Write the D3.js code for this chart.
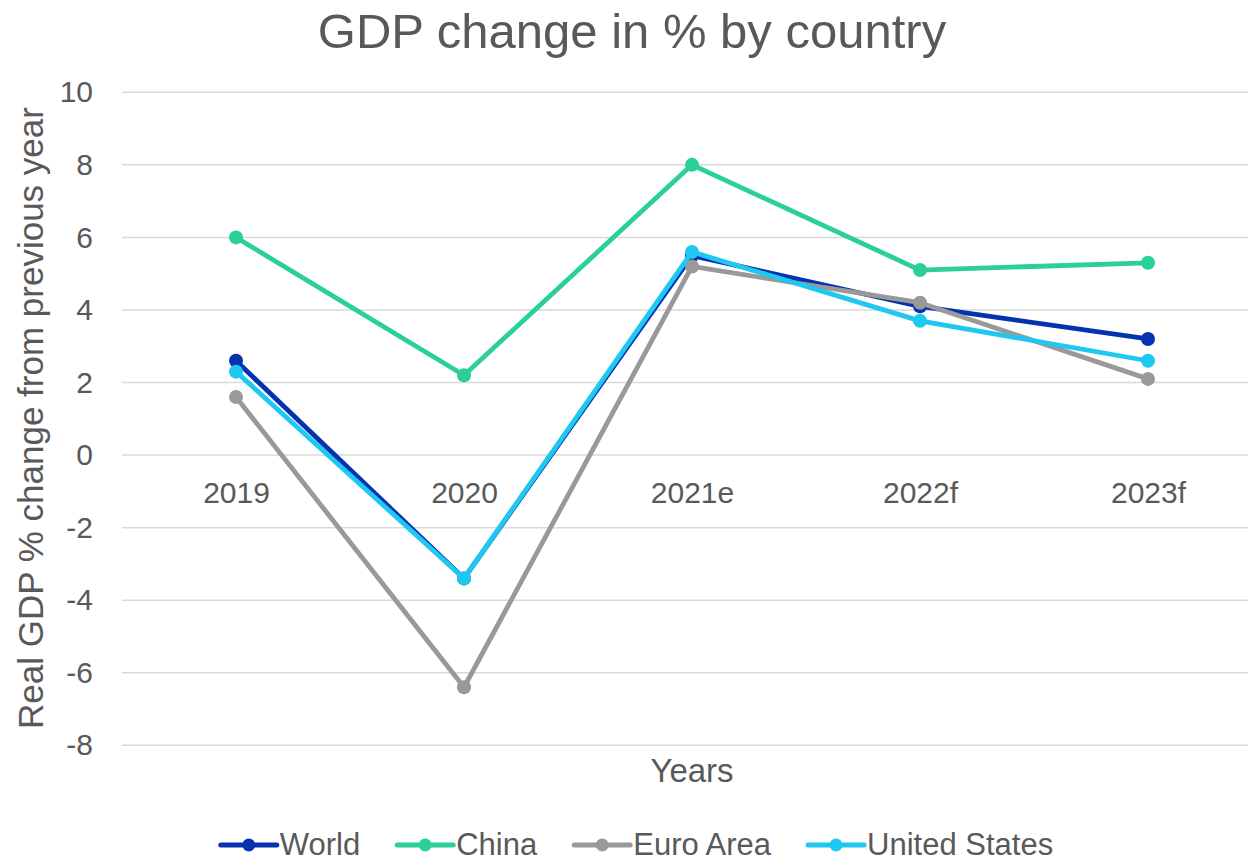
<!DOCTYPE html>
<html>
<head>
<meta charset="utf-8">
<script src="https://cdn.jsdelivr.net/npm/d3@7"></script>
<style>
  html, body { margin: 0; padding: 0; background: #fff; }
  svg { display: block; font-family: Arial, "Liberation Sans", sans-serif; }
</style>
</head>
<body>
<svg id="chart" width="1248" height="862"></svg>
<script>
// Real GDP growth, % change from previous year
const years = ["2019", "2020", "2021e", "2022f", "2023f"];
const world = [2.6, -3.4, 5.5, 4.1, 3.2];
const china = [6.0, 2.2, 8.0, 5.1, 5.3];
const euroArea = [1.6, -6.4, 5.2, 4.2, 2.1];
const unitedStates = [2.3, -3.4, 5.6, 3.7, 2.6];
const seriesNames = ["World", "China", "Euro Area", "United States"];
const seriesColors = ["#0432b0", "#2ad095", "#999999", "#1ec8f0"];
const yTicks = [-8, -6, -4, -2, 0, 2, 4, 6, 8, 10];

const series = [world, china, euroArea, unitedStates].map((values, i) => ({
  name: seriesNames[i],
  color: seriesColors[i],
  values: values.map((v, j) => ({ year: years[j], value: v }))
}));

const svg = d3.select("#chart");
const textColor = "#595959";
const fontStack = "Arial, 'Liberation Sans', sans-serif";

const plotLeft = 122, plotRight = 1262, plotTop = 92.3, plotBottom = 745.3;

const x = d3.scalePoint().domain(years).range([plotLeft, plotRight]).padding(0.5);
const y = d3.scaleLinear().domain([-8, 10]).range([plotBottom, plotTop]);

// Title
svg.append("text")
  .attr("x", 632).attr("y", 48)
  .attr("text-anchor", "middle")
  .attr("fill", textColor)
  .style("font-size", "49px")
  .text("GDP change in % by country");

// Horizontal gridlines
svg.append("g")
  .selectAll("line")
  .data(yTicks)
  .join("line")
  .attr("x1", plotLeft).attr("x2", 1248)
  .attr("y1", d => y(d)).attr("y2", d => y(d))
  .attr("stroke", "#d9d9d9")
  .attr("stroke-width", 1.5);

// Y axis tick labels (plain hyphen for negatives)
const yAxis = d3.axisLeft(y)
  .tickValues(yTicks)
  .tickFormat(d => String(d))
  .tickSize(0)
  .tickPadding(0);
const yAxisG = svg.append("g")
  .attr("transform", `translate(93,0)`)
  .call(yAxis);
yAxisG.select(".domain").remove();
yAxisG.selectAll("text")
  .attr("fill", textColor)
  .style("font-size", "30px")
  .style("font-family", fontStack);

// Category labels sit just under the zero line
const xAxis = d3.axisBottom(x).tickSize(0).tickPadding(0);
const xAxisG = svg.append("g")
  .attr("transform", `translate(0,${y(0)})`)
  .call(xAxis);
xAxisG.select(".domain").remove();
xAxisG.selectAll("text")
  .attr("dy", null)
  .attr("y", 48)
  .attr("fill", textColor)
  .style("font-size", "30px")
  .style("font-family", fontStack);

// Axis titles
svg.append("text")
  .attr("x", 692).attr("y", 782)
  .attr("text-anchor", "middle")
  .attr("fill", textColor)
  .style("font-size", "33px")
  .text("Years");

svg.append("text")
  .attr("transform", "translate(43,418) rotate(-90)")
  .attr("text-anchor", "middle")
  .attr("fill", textColor)
  .style("font-size", "35px")
  .text("Real GDP % change from previous year");

// Series lines and markers
const line = d3.line().x(d => x(d.year)).y(d => y(d.value));
const seriesG = svg.append("g")
  .selectAll("g")
  .data(series)
  .join("g");

seriesG.append("path")
  .attr("d", d => line(d.values))
  .attr("fill", "none")
  .attr("stroke", d => d.color)
  .attr("stroke-width", 4.8)
  .attr("stroke-linejoin", "round")
  .attr("stroke-linecap", "round");

seriesG.selectAll("circle")
  .data(d => d.values.map(v => ({ ...v, color: d.color })))
  .join("circle")
  .attr("cx", d => x(d.year))
  .attr("cy", d => y(d.value))
  .attr("r", 7)
  .attr("fill", d => d.color);

// Legend, centered under the chart
const legend = svg.append("g");
const legendY = 845;
const swatch = 56, textGap = 3, itemGap = 37;
const items = legend.selectAll("g")
  .data(series)
  .join("g");

items.append("line")
  .attr("x1", 0).attr("x2", swatch)
  .attr("y1", legendY).attr("y2", legendY)
  .attr("stroke", d => d.color)
  .attr("stroke-width", 5)
  .attr("stroke-linecap", "round");
items.append("circle")
  .attr("cx", swatch / 2).attr("cy", legendY)
  .attr("r", 6.5)
  .attr("fill", d => d.color);
items.append("text")
  .attr("x", swatch + textGap).attr("y", legendY + 10)
  .attr("fill", textColor)
  .style("font-size", "31px")
  .text(d => d.name);

let offset = 0;
items.each(function () {
  const g = d3.select(this);
  const w = swatch + textGap + g.select("text").node().getComputedTextLength();
  g.attr("transform", `translate(${offset},0)`);
  offset += w + itemGap;
});
const totalWidth = offset - itemGap;
legend.attr("transform", `translate(${637 - totalWidth / 2},0)`);
</script>
</body>
</html>
